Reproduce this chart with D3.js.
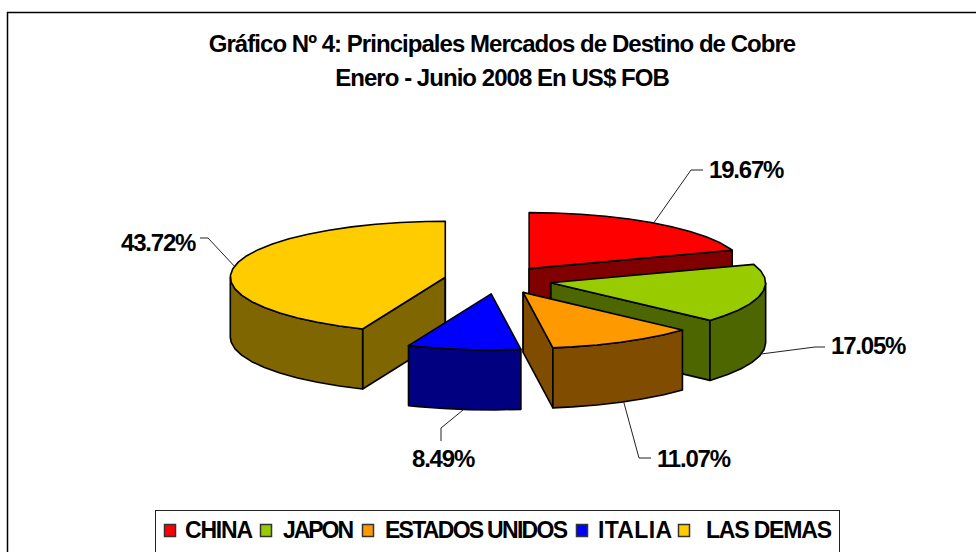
<!DOCTYPE html>
<html>
<head>
<meta charset="utf-8">
<title>Gráfico Nº 4</title>
<script src="https://cdn.jsdelivr.net/npm/d3@7"></script>
<style>
  html, body { margin: 0; padding: 0; background: #fff; }
  svg { display: block; }
  text { font-family: "Liberation Sans", Arial, sans-serif; font-weight: bold; fill: #000; }
</style>
</head>
<body>
<svg id="chart" width="976" height="552"></svg>
<script>
const categories = ["CHINA", "JAPON", "ESTADOS UNIDOS", "ITALIA", "LAS DEMAS"];
const shares = [19.67, 17.05, 11.07, 8.49, 43.72];
const topColors = ["#ff0000", "#99cc00", "#ff9900", "#0000ff", "#ffcc00"];
const sideColors = ["#800000", "#4d6600", "#804c00", "#000080", "#806600"];
const titleLines = ["Gráfico Nº 4: Principales Mercados de Destino de Cobre", "Enero - Junio 2008 En US$ FOB"];

// layout only, no data in here
const cx = 498, cy = 280;
const rx = 215, ry = 56;
const depth = 60;
const explode = 0.25;
const drawOrder = [0, 1, 4, 3, 2]; // back to front
const labelAnchor = [[709, 170], [831, 346], [657, 459], [412, 459], [121, 243]];
const leaderElbow = [[[691, 170], [703, 170]], [[815, 347], [825, 347]], [[639, 458], [651, 458]], [[441, 428], [441, 441]], [[208, 238], [200, 238]]];
const legendSquareX = [164, 260, 362, 576, 678];
const legendTextX = [185, 283, 385, 598, 706];
const legendTextLen = [68, 71, 183, 74, 126];

const svg = d3.select("#chart");
const color = d3.scaleOrdinal().domain(categories).range(topColors);
const sideColor = d3.scaleOrdinal().domain(categories).range(sideColors);
const line = d3.line();

// frame, only the top and left edges show
svg.append("path")
    .attr("d", "M7.5 552V12.5H976")
    .attr("fill", "none")
    .attr("stroke", "#000")
    .attr("stroke-width", 1.5);

svg.append("g").selectAll("text")
    .data(titleLines)
    .join("text")
    .attr("x", 502)
    .attr("y", (d, i) => 52 + i * 34)
    .attr("text-anchor", "middle")
    .attr("font-size", 24)
    .attr("letter-spacing", -0.96)
    .text(d => d);

const pie = d3.pie().sort(null).value(d => d.share);
const slices = pie(categories.map((name, i) => ({ name: name, share: shares[i] })));

slices.forEach(s => {
    const mid = (s.startAngle + s.endAngle) / 2;
    s.mid = mid;
    s.ox = cx + explode * rx * Math.sin(mid);
    s.oy = cy - explode * ry * Math.cos(mid);
});

function rim(s, a) {
    return [s.ox + rx * Math.sin(a), s.oy - ry * Math.cos(a)];
}

function arcPoints(s, a0, a1) {
    const step = Math.PI / 26;
    const pts = d3.range(a0, a1, step).map(a => rim(s, a));
    pts.push(rim(s, a1));
    return pts;
}

function down(p) {
    return [p[0], p[1] + depth];
}

const pieG = svg.append("g")
    .attr("stroke", "#000")
    .attr("stroke-width", 1.6)
    .attr("stroke-linejoin", "round");

drawOrder.forEach(i => {
    const s = slices[i];
    const center = [s.ox, s.oy];
    const g = pieG.append("g");
    const dark = sideColor(s.data.name);

    // cut faces, only the ones turned to the viewer
    if (Math.sin(s.startAngle) < -1e-6) {
        const p = rim(s, s.startAngle);
        g.append("path").attr("d", line([center, p, down(p), down(center)]) + "Z").attr("fill", dark);
    }
    if (Math.sin(s.endAngle) > 1e-6) {
        const p = rim(s, s.endAngle);
        g.append("path").attr("d", line([center, p, down(p), down(center)]) + "Z").attr("fill", dark);
    }

    // outer wall on the near half of the ellipse
    const a0 = Math.max(s.startAngle, Math.PI / 2);
    const a1 = Math.min(s.endAngle, Math.PI * 1.5);
    if (a1 > a0) {
        const upper = arcPoints(s, a0, a1);
        const lower = upper.map(down).reverse();
        g.append("path").attr("d", line(upper.concat(lower)) + "Z").attr("fill", dark);
    }

    // top face
    const topPts = [center].concat(arcPoints(s, s.startAngle, s.endAngle));
    g.append("path").attr("d", line(topPts) + "Z").attr("fill", color(s.data.name));

    // far vertical at the exploded centre
    if (Math.sin(s.endAngle) > 1e-6 || Math.sin(s.startAngle) < -1e-6) {
        g.append("path").attr("d", line([center, down(center)])).attr("fill", "none");
    }
});

// leader lines and percentage labels
const labelG = svg.append("g");
slices.forEach((s, i) => {
    let start = rim(s, s.mid);
    if (Math.cos(s.mid) < 0) start = down(start);
    labelG.append("path")
        .attr("d", line([start].concat(leaderElbow[i])))
        .attr("fill", "none")
        .attr("stroke", "#222")
        .attr("stroke-width", 1);
    labelG.append("text")
        .attr("x", labelAnchor[i][0])
        .attr("y", labelAnchor[i][1] + 8)
        .attr("font-size", 24)
        .attr("letter-spacing", -1.2)
        .text(d3.format(".2f")(s.data.share) + "%");
});

// legend
svg.append("rect")
    .attr("x", 155.5)
    .attr("y", 510.5)
    .attr("width", 684)
    .attr("height", 60)
    .attr("fill", "#fff")
    .attr("stroke", "#222")
    .attr("stroke-width", 1);

const legend = svg.append("g").selectAll("g")
    .data(categories)
    .join("g");

legend.append("rect")
    .attr("x", (d, i) => legendSquareX[i] + 0.5)
    .attr("y", 524.5)
    .attr("width", 11)
    .attr("height", 12)
    .attr("fill", d => color(d))
    .attr("stroke", "#333")
    .attr("stroke-width", 1.5);

legend.append("text")
    .attr("x", (d, i) => legendTextX[i])
    .attr("y", 537.5)
    .attr("font-size", 23)
    .attr("textLength", (d, i) => legendTextLen[i])
    .attr("lengthAdjust", "spacing")
    .text(d => d);
</script>
</body>
</html>
